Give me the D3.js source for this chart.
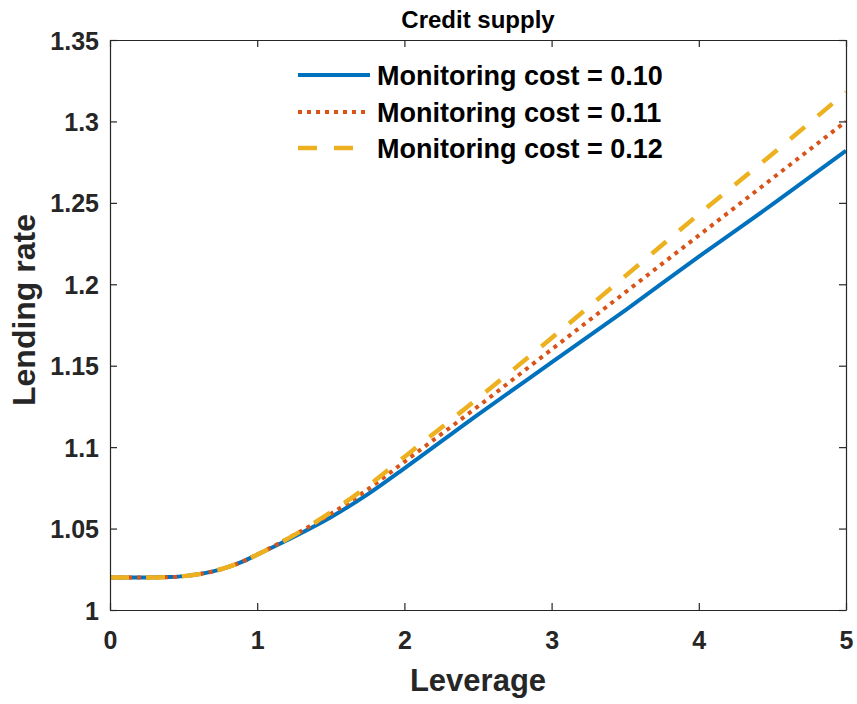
<!DOCTYPE html>
<html><head><meta charset="utf-8">
<script src="https://cdn.jsdelivr.net/npm/d3@7"></script>
<style>
body{margin:0;background:#fff;}
text{font-family:"Liberation Sans",Arial,Helvetica,sans-serif;font-weight:bold;}
</style></head>
<body><svg id="c" width="857" height="704"></svg>
<script>
const leverage = [0, 0.25, 0.4, 0.5, 0.6, 0.7, 0.8, 0.9, 1.0, 1.25, 1.5, 1.75, 2, 2.5, 3, 3.5, 4, 4.5, 5];
const cost010 = [1.020,1.020,1.0202,1.0208,1.0219,1.0237,1.0263,1.0297,1.034,1.045,1.057,1.071,1.087,1.120,1.152,1.184,1.217,1.249,1.282];
const cost011 = [1.020,1.020,1.0202,1.0208,1.0219,1.0237,1.0263,1.0297,1.034,1.046,1.059,1.074,1.091,1.125,1.160,1.195,1.230,1.265,1.300];
const cost012 = [1.020,1.020,1.0202,1.0208,1.0219,1.0237,1.0263,1.0297,1.034,1.046,1.060,1.076,1.094,1.130,1.167,1.205,1.243,1.280,1.318];
const seriesNames = ["Monitoring cost = 0.10","Monitoring cost = 0.11","Monitoring cost = 0.12"];
const xTicks = [0,1,2,3,4,5];
const yTicks = [1,1.05,1.1,1.15,1.2,1.25,1.3,1.35];
const yTickLabels = ["1","1.05","1.1","1.15","1.2","1.25","1.3","1.35"];

const svg = d3.select("#c");
const L=110, R=846, T=40, B=610;
const x = d3.scaleLinear().domain([0,5]).range([L,R]);
const y = d3.scaleLinear().domain([1,1.35]).range([B,T]);
const axisColor = "#262626";

const styles = [
  {color:"#0072BD", width:4, dash:null},
  {color:"#D95319", width:4, dash:"4,5"},
  {color:"#EDB120", width:4.5, dash:"19,17"}
];
const data = [cost010, cost011, cost012];

const line = d3.line().x((d,i)=>x(leverage[i])).y(d=>y(d)).curve(d3.curveMonotoneX);
data.forEach((s,k)=>{
  svg.append("path").datum(s).attr("d",line)
    .attr("fill","none").attr("stroke",styles[k].color)
    .attr("stroke-width",styles[k].width)
    .attr("stroke-dasharray",styles[k].dash);
});

// axes
const fs = 25;
const gx = svg.append("g").attr("transform",`translate(0,${B})`)
  .call(d3.axisBottom(x).tickValues(xTicks).tickFormat(d3.format("d")).tickSizeInner(-7).tickSizeOuter(0).tickPadding(21));
const gxt = svg.append("g").attr("transform",`translate(0,${T})`)
  .call(d3.axisTop(x).tickValues(xTicks).tickFormat("").tickSizeInner(-7).tickSizeOuter(0));
const gy = svg.append("g").attr("transform",`translate(${L},0)`)
  .call(d3.axisLeft(y).tickValues(yTicks).tickFormat((d,i)=>yTickLabels[i]).tickSizeInner(-7).tickSizeOuter(0).tickPadding(11));
const gyr = svg.append("g").attr("transform",`translate(${R},0)`)
  .call(d3.axisRight(y).tickValues(yTicks).tickFormat("").tickSizeInner(-7).tickSizeOuter(0));
[gx,gxt,gy,gyr].forEach(g=>{
  g.selectAll("path").attr("stroke",axisColor).attr("stroke-width",1.2);
  g.selectAll("line").attr("stroke",axisColor).attr("stroke-width",1.2);
  g.selectAll("text").attr("fill",axisColor).style("font-size",fs+"px");
});
gx.selectAll("text").attr("dy","0.71em");
gy.selectAll("text").attr("dy","0.36em");

// title and labels
svg.append("text").attr("x",478).attr("y",28).attr("text-anchor","middle")
  .style("font-size","24px").attr("fill","#000").text("Credit supply");
svg.append("text").attr("x",(L+R)/2).attr("y",691).attr("text-anchor","middle")
  .style("font-size","31px").attr("fill",axisColor).text("Leverage");
svg.append("text").attr("transform",`translate(35,310) rotate(-90)`).attr("text-anchor","middle")
  .style("font-size","32px").attr("fill",axisColor).text("Lending rate");

// legend
const legY = [75,112,148];
seriesNames.forEach((n,k)=>{
  svg.append("line").attr("x1",298).attr("x2",370).attr("y1",legY[k]).attr("y2",legY[k])
    .attr("stroke",styles[k].color).attr("stroke-width",styles[k].width)
    .attr("stroke-dasharray",styles[k].dash);
  svg.append("text").attr("x",377).attr("y",legY[k]).attr("dy","0.36em")
    .style("font-size","27px").attr("fill","#000").text(n);
});
</script></body></html>
